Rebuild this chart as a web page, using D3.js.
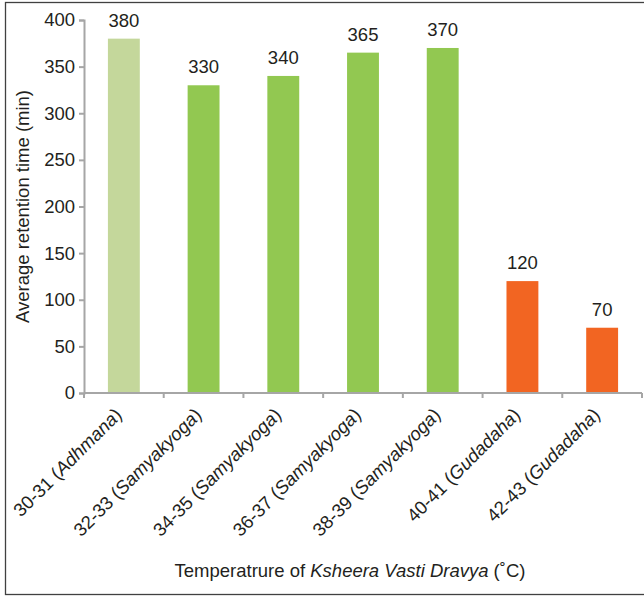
<!DOCTYPE html>
<html>
<head>
<meta charset="utf-8">
<script src="https://cdn.jsdelivr.net/npm/d3@7"></script>
<style>
  body { margin: 0; background: #fff; }
  svg text { font-family: "Liberation Sans", Arial, sans-serif; fill: #231f20; }
</style>
</head>
<body>
<svg id="chart"></svg>
<script>
// DATA
const ranges = ["30-31", "32-33", "34-35", "36-37", "38-39", "40-41", "42-43"];
const stages = ["Adhmana", "Samyakyoga", "Samyakyoga", "Samyakyoga", "Samyakyoga", "Gudadaha", "Gudadaha"];
const retention = [380, 330, 340, 365, 370, 120, 70];
const yTicks = [0, 50, 100, 150, 200, 250, 300, 350, 400];

const stageColor = {Adhmana: "#c4d79b", Samyakyoga: "#92c851", Gudadaha: "#f26522"};

// SET VARIABLES
const _width = 644, _height = 597;
const _margin = {left: 84, right: 2, top: 20, bottom: 204};
const _font = "18.5px";

const svg = d3.select("#chart")
              .attr("width", _width)
              .attr("height", _height);

// frame
svg.append("rect")
    .attr("x", 5.5)
    .attr("y", 2.5)
    .attr("width", 640)
    .attr("height", 592)
    .attr("fill", "none")
    .attr("stroke", "#404040")
    .attr("stroke-width", 1.3);

const x = d3.scaleBand()
            .domain(ranges)
            .range([_margin.left, _width - _margin.right])
            .paddingInner(0.6)
            .paddingOuter(0.3);

const y = d3.scaleLinear()
            .domain([0, 400])
            .range([_height - _margin.bottom, _margin.top]);

// bars
svg.append("g")
    .selectAll("rect")
    .data(ranges)
      .enter()
    .append("rect")
      .attr("x", d => x(d))
      .attr("y", (d, i) => y(retention[i]))
      .attr("width", x.bandwidth())
      .attr("height", (d, i) => y(0) - y(retention[i]))
      .attr("fill", (d, i) => stageColor[stages[i]]);

// value labels
svg.append("g")
    .selectAll("text")
    .data(ranges)
      .enter()
    .append("text")
      .attr("x", d => x(d) + x.bandwidth() / 2)
      .attr("y", (d, i) => y(retention[i]) - 12)
      .attr("text-anchor", "middle")
      .style("font-size", _font)
      .text((d, i) => retention[i]);

// Y AXIS
const yAxis = svg.append("g")
                  .attr("transform", `translate(${_margin.left}, 0)`)
                  .call(d3.axisLeft(y).tickValues(yTicks).tickSize(5).tickPadding(4));
yAxis.selectAll("path, line").attr("stroke", "#a6a6a6").attr("stroke-width", 2);
yAxis.selectAll("text").style("font-size", _font).attr("fill", "#231f20");

// X AXIS (ticks at band edges)
const xAxisG = svg.append("g")
                  .attr("transform", `translate(0, ${y(0)})`);
xAxisG.append("line")
        .attr("x1", _margin.left)
        .attr("x2", _width - _margin.right)
        .attr("stroke", "#a6a6a6")
        .attr("stroke-width", 2);
const step = x.step();
const edges = ranges.map(d => x(d) - step * 0.3).concat([x(ranges[ranges.length - 1]) + x.bandwidth() + step * 0.3]);
xAxisG.selectAll("line.tick")
        .data(edges)
          .enter()
        .append("line")
          .attr("class", "tick")
          .attr("x1", d => d)
          .attr("x2", d => d)
          .attr("y1", 0)
          .attr("y2", 5)
          .attr("stroke", "#a6a6a6")
          .attr("stroke-width", 2);

// rotated category labels
const catLabels = xAxisG.selectAll("text.cat")
                        .data(ranges)
                          .enter()
                        .append("text")
                          .attr("class", "cat")
                          .attr("text-anchor", "end")
                          .attr("transform", d => `translate(${x(d) + x.bandwidth() / 2 - 1}, 23) rotate(-45)`)
                          .style("font-size", _font);
catLabels.append("tspan").text(d => d + " (");
catLabels.append("tspan").style("font-style", "italic").text((d, i) => stages[i]);
catLabels.append("tspan").text(")");

// axis titles
svg.append("text")
    .attr("transform", `translate(29, ${(y(0) + y(400)) / 2}) rotate(-90)`)
    .attr("text-anchor", "middle")
    .style("font-size", _font)
    .text("Average retention time (min)");

const xTitle = svg.append("text")
                  .attr("x", 350)
                  .attr("y", 577)
                  .attr("text-anchor", "middle")
                  .style("font-size", _font);
xTitle.append("tspan").text("Temperatrure of ");
xTitle.append("tspan").style("font-style", "italic").text("Ksheera Vasti Dravya");
xTitle.append("tspan").text(" (˚C)");
</script>
</body>
</html>
